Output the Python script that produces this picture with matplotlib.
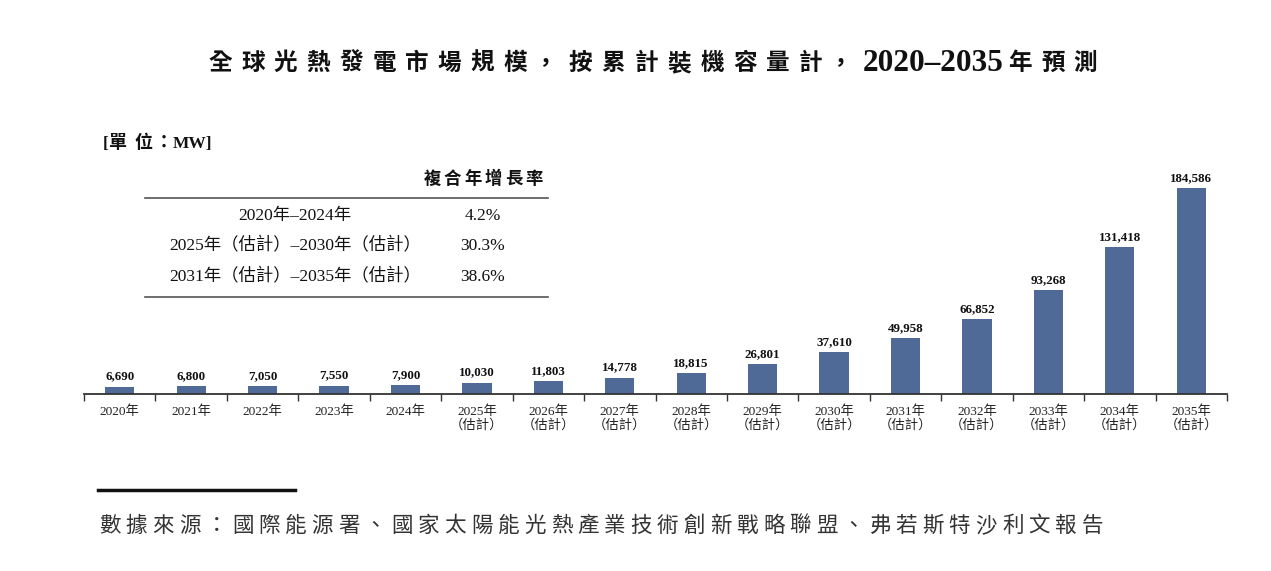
import numpy as np
import matplotlib
matplotlib.use('Agg')
import matplotlib.pyplot as plt
from matplotlib.lines import Line2D

# ---------------- data ----------------
years = [2020, 2021, 2022, 2023, 2024, 2025, 2026, 2027, 2028, 2029, 2030,
         2031, 2032, 2033, 2034, 2035]
values = [6690, 6800, 7050, 7550, 7900, 10030, 11803, 14778, 18815, 26801,
          37610, 49958, 66852, 93268, 131418, 184586]
is_estimate = [False] * 5 + [True] * 11

cagr_periods = ["2020年–2024年", "2025年（估計）–2030年（估計）", "2031年（估計）–2035年（估計）"]
cagr_values = ["4.2%", "30.3%", "38.6%"]

title_a = "全球光熱發電市場規模，按累計裝機容量計，"
title_b = "2020–2035"
title_c = "年預測"
unit_a = "[單位："
unit_b = "MW]"
cagr_header = "複合年增長率"
source = "數據來源：國際能源署、國家太陽能光熱產業技術創新戰略聯盟、弗若斯特沙利文報告"

# ---------------- figure ----------------
W, H = 1271, 571
fig = plt.figure(figsize=(W / 100, H / 100), dpi=100)
SERIF_CJK = ['Liberation Serif', 'Noto Sans CJK TC']
CJK = ['Noto Sans CJK TC', 'Liberation Serif']
BAR = '#4F6A96'


def fx(x):
    return x / W


def fy(y):
    return 1 - y / H


def cjk_row(c0, y, s, pitch, fontsize, comma_shift=0.0, **kw):
    """Place full-width CJK characters on a fixed pitch; c0 = centre of first cell (px)."""
    em = fontsize * 100 / 72
    for i, ch in enumerate(s):
        c = c0 + i * pitch
        shift = comma_shift if ch == "，" else 0.0
        fig.text(fx(c - em / 2 + shift), fy(y), ch, ha='left', va='baseline',
                 fontsize=fontsize, **kw)


# title
cjk_row(220, 70, title_a, 32.8, 17, comma_shift=-2.5, fontweight='bold', family=CJK, color='#111')
fig.text(fx(863), fy(71), title_b, ha='left', va='baseline', fontsize=22.5,
         fontweight='bold', family='Liberation Serif', color='#111')
cjk_row(1020, 70, title_c, 32.8, 17, fontweight='bold', family=CJK, color='#111')

# unit label
fig.text(fx(103), fy(148), "[", ha='left', va='baseline', fontsize=12.5,
         fontweight='bold', family='Liberation Serif', color='#111')
for c, ch in zip([117, 143, 164], unit_a[1:]):
    cjk_row(c, 148, ch, 0, 13, fontweight='bold', family=CJK, color='#111')
fig.text(fx(173), fy(148), unit_b, ha='left', va='baseline', fontsize=12.5,
         fontweight='bold', family='Liberation Serif', color='#111')

# CAGR header
cjk_row(432, 184, cagr_header, 20.4, 12.5, fontweight='bold', family=CJK, color='#111')

# table lines and rows
for yy in (198, 297):
    fig.add_artist(Line2D([fx(145), fx(548)], [fy(yy)] * 2, color='#555', lw=1.2))
row_y = [216, 246, 277]
for yy, p, v in zip(row_y, cagr_periods, cagr_values):
    fig.text(fx(295), fy(yy), p, ha='center', va='center', fontsize=12.5,
             family=SERIF_CJK, color='#111')
    fig.text(fx(483), fy(yy), v, ha='center', va='center', fontsize=12.5,
             family=SERIF_CJK, color='#111')

# axes
ax = fig.add_axes([84 / W, 177 / H, 1143 / W, 223.2 / H])
x = np.arange(len(years))
ax.bar(x, values, width=0.41, color=BAR)
ax.set_xlim(-0.5, len(years) - 0.5)
ax.set_ylim(0, 200000)
for s in ('top', 'left', 'right'):
    ax.spines[s].set_visible(False)
ax.spines['bottom'].set_color('#333')
ax.spines['bottom'].set_linewidth(1.3)
ax.set_yticks([])
ax.set_xticks(x)
ax.set_xticklabels([f"{y}年" + ("\n（估計）" if e else "") for y, e in zip(years, is_estimate)])
ax.tick_params(axis='x', which='major', length=0, pad=8, labelsize=9.6, labelcolor='#222')
for lab in ax.get_xticklabels():
    lab.set_fontfamily(SERIF_CJK)
    lab.set_linespacing(1.15)
ax.set_xticks(np.arange(-0.5, len(years), 1), minor=True)
ax.tick_params(axis='x', which='minor', length=5, width=1, color='#333', direction='out')
ax.patch.set_visible(False)

for xi, v in zip(x, values):
    ax.annotate(f"{v:,}", (xi, v), xytext=(0, 3), textcoords='offset points',
                ha='center', va='bottom', fontsize=9.4, fontweight='bold',
                family='Liberation Serif', color='#111')

# footer
fig.add_artist(Line2D([fx(98), fx(295)], [fy(490)] * 2, color='#111', lw=2.5))
cjk_row(110, 532, source, 26.55, 15.5, family=CJK, color='#333')

fig.savefig('out.png', dpi=100)
